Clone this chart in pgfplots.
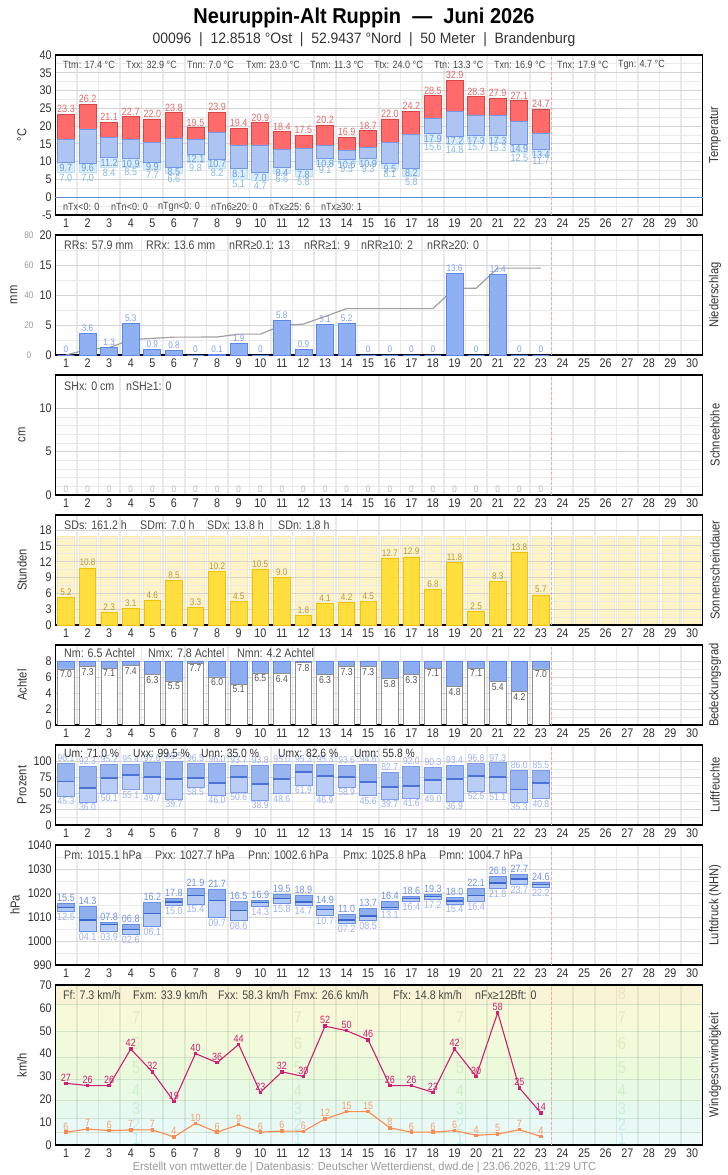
\documentclass[border=0pt]{standalone}
\usepackage{pgfplots}
\pgfplotsset{compat=1.18}
\usepackage{pgfplotstable}
\usepackage{fontspec}
\setmainfont[FakeStretch=0.86]{Liberation Sans}
\newfontfamily\headfont[FakeStretch=0.93]{Liberation Sans}
\newcommand\fs[1]{\fontsize{#1}{#1}\selectfont}

\definecolor{txt}{HTML}{333333}
\definecolor{stat}{HTML}{474747}
\definecolor{footc}{HTML}{999999}
\definecolor{gridc}{HTML}{D4D4D4}
\definecolor{gridv}{HTML}{E9E9E9}
\definecolor{vred}{HTML}{F2A8A8}
\definecolor{zeroc}{HTML}{5B8FDD}
\definecolor{redf}{HTML}{FF6B6B}
\definecolor{redd}{HTML}{D84545}
\definecolor{bluef}{HTML}{AEC5F3}
\definecolor{blued}{HTML}{7398E8}
\definecolor{cyanf}{HTML}{D8EEFB}
\definecolor{cyand}{HTML}{C2E0F2}
\definecolor{labred}{HTML}{E46A6A}
\definecolor{labblue}{HTML}{7098DE}
\definecolor{labcyan}{HTML}{86B9E0}
\definecolor{prf}{HTML}{8FB0F2}
\definecolor{prd}{HTML}{5C86EA}
\definecolor{prl}{HTML}{7E9FF0}
\definecolor{cumc}{HTML}{A0A0A0}
\definecolor{snowl}{HTML}{BBBBBB}
\definecolor{sunf}{HTML}{FFDE3E}
\definecolor{sund}{HTML}{F2C200}
\definecolor{sunbg}{HTML}{FFF4C8}
\definecolor{sunbgd}{HTML}{FBE7A6}
\definecolor{sunl}{HTML}{B8963E}
\definecolor{cldf}{HTML}{8CADF0}
\definecolor{cldd}{HTML}{5F88E6}
\definecolor{cldw}{HTML}{8E8E8E}
\definecolor{cldl}{HTML}{555555}
\definecolor{huml}{HTML}{BACDF6}
\definecolor{humu}{HTML}{98B5F0}
\definecolor{humd}{HTML}{7C9BE8}
\definecolor{humm}{HTML}{4A72D8}
\definecolor{humlab}{HTML}{9DB3EE}
\definecolor{prsl}{HTML}{B6CAF6}
\definecolor{prsu}{HTML}{8EAEEE}
\definecolor{prsd}{HTML}{6A90E6}
\definecolor{prsm}{HTML}{3A66D0}
\definecolor{prslabu}{HTML}{6F93E6}
\definecolor{prslabl}{HTML}{A0B5EA}
\definecolor{fxc}{HTML}{D11F73}
\definecolor{fmc}{HTML}{FF8A50}
\definecolor{fml}{HTML}{F5A070}
\definecolor{bz}{HTML}{EEFBFB}
\definecolor{ba}{HTML}{E8F9F6}
\definecolor{bb}{HTML}{E6F9EE}
\definecolor{bc}{HTML}{E8FAE3}
\definecolor{bd}{HTML}{ECFADC}
\definecolor{be}{HTML}{F1FADA}
\definecolor{bf}{HTML}{F6FAD8}
\definecolor{bg}{HTML}{FAF4D6}
\definecolor{bline}{HTML}{CFE3CB}
\definecolor{dga}{HTML}{C4EDF0}
\definecolor{dgb}{HTML}{C6EDE4}
\definecolor{dgc}{HTML}{CBEED4}
\definecolor{dgd}{HTML}{D0EECA}
\definecolor{dge}{HTML}{D8ECC4}
\definecolor{dgf}{HTML}{DFEAC0}
\definecolor{dgg}{HTML}{E5E9BE}
\definecolor{dgh}{HTML}{EBE3C2}

\pgfplotstableread{
d tx tm tn tgn
1 23.3 16.2 9.7 7.0
2 26.2 19.2 9.6 7.0
3 21.1 16.7 11.2 8.4
4 22.7 16.2 10.9 8.5
5 22.0 15.3 9.9 7.7
6 23.8 16.4 8.5 6.6
7 19.5 16.2 12.1 9.8
8 23.9 18.2 10.7 8.2
9 19.4 14.7 8.1 5.1
10 20.9 14.7 7.0 4.7
11 18.4 13.4 8.4 6.6
12 17.5 13.7 7.8 5.8
13 20.2 14.5 10.8 9.1
14 16.9 13.3 10.6 9.5
15 18.7 13.9 10.9 9.3
16 22.0 15.3 9.5 8.1
17 24.2 17.7 8.2 5.8
18 28.5 22.3 17.9 15.6
19 32.9 24.0 17.2 14.8
20 28.3 22.9 17.3 15.7
21 27.9 22.9 17.3 15.3
22 27.1 21.3 14.9 12.5
23 24.7 17.9 13.4 11.7
}\Temp

\pgfplotstableread{
d rr cum z
1 0 0 0
2 3.6 3.6 0
3 1.3 4.9 0
4 5.3 10.2 0
5 0.9 11.1 0
6 0.8 11.9 0
7 0 11.9 0
8 0.1 12.0 0
9 1.9 13.9 0
10 0 13.9 0
11 5.8 19.7 0
12 0.9 20.6 0
13 5.1 25.7 0
14 5.2 30.9 0
15 0 30.9 0
16 0 30.9 0
17 0 30.9 0
18 0 30.9 0
19 13.6 44.5 0
20 0 44.5 0
21 13.4 57.9 0
22 0 57.9 0
23 0 57.9 0
}\Prec

\pgfplotstableread{
d sd
1 5.2
2 10.8
3 2.3
4 3.1
5 4.6
6 8.5
7 3.3
8 10.2
9 4.5
10 10.5
11 9.0
12 1.8
13 4.1
14 4.2
15 4.5
16 12.7
17 12.9
18 6.8
19 11.8
20 2.5
21 8.3
22 13.8
23 5.7
}\Sun

\pgfplotstableread{
d h
1 16.7
2 16.7
3 16.7
4 16.7
5 16.7
6 16.7
7 16.7
8 16.7
9 16.7
10 16.7
11 16.7
12 16.7
13 16.7
14 16.7
15 16.7
16 16.7
17 16.7
18 16.7
19 16.7
20 16.7
21 16.7
22 16.7
23 16.7
24 16.7
25 16.7
26 16.7
27 16.7
28 16.7
29 16.7
30 16.7
}\SunBg

\pgfplotstableread{
d n
1 7.0
2 7.3
3 7.1
4 7.4
5 6.3
6 5.5
7 7.7
8 6.0
9 5.1
10 6.5
11 6.4
12 7.8
13 6.3
14 7.3
15 7.3
16 5.8
17 6.3
18 7.1
19 4.8
20 7.1
21 5.4
22 4.2
23 7.0
}\Cloud

\pgfplotstableread{
d umax umean umin
1 96.1 68.4 45.3
2 92.3 58.0 36.0
3 95.2 73.6 50.1
4 95.4 78.2 55.1
5 97.6 75.1 49.7
6 99.5 72.0 39.7
7 96.5 73.6 58.5
8 96.0 65.8 46.0
9 93.7 75.1 50.6
10 93.8 64.2 38.9
11 95.0 72.0 48.6
12 95.3 82.6 61.9
13 95.3 76.7 46.9
14 93.6 75.1 58.9
15 94.6 67.4 45.6
16 82.7 59.6 39.7
17 92.0 61.1 41.6
18 90.3 70.5 49.0
19 93.4 72.0 36.9
20 96.8 76.7 52.5
21 97.3 75.1 51.1
22 86.0 55.8 35.3
23 85.5 65.8 40.8
}\Hum

\pgfplotstableread{
d pmax pmean pmin lmax lmin
1 1015.5 1014.1 1012.5 15.5 12.5
2 1014.3 1008.7 1004.1 14.3 04.1
3 1007.8 1006.9 1003.9 07.8 03.9
4 1006.8 1004.7 1002.6 06.8 02.6
5 1016.2 1011.6 1006.1 16.2 06.1
6 1017.8 1016.3 1015.0 17.8 15.0
7 1021.9 1019.1 1015.4 21.9 15.4
8 1021.7 1017.0 1009.7 21.7 09.7
9 1016.5 1012.6 1008.6 16.5 08.6
10 1016.9 1016.0 1014.3 16.9 14.3
11 1019.5 1017.6 1015.8 19.5 15.8
12 1018.9 1016.3 1014.7 18.9 14.7
13 1014.9 1013.0 1010.7 14.9 10.7
14 1011.0 1008.8 1007.2 11.0 07.2
15 1013.7 1010.4 1008.5 13.7 08.5
16 1016.4 1014.1 1013.1 16.4 13.1
17 1018.6 1017.8 1016.4 18.6 16.4
18 1019.3 1018.4 1017.2 19.3 17.2
19 1018.0 1016.7 1015.4 18.0 15.4
20 1022.1 1019.1 1016.4 22.1 16.4
21 1026.8 1024.2 1021.8 26.8 21.8
22 1027.7 1025.8 1023.7 27.7 23.7
23 1024.6 1023.6 1022.2 24.6 22.2
}\Pres

\pgfplotstableread{
d fx fm fml
1 27 5.6 6
2 26 7.0 7
3 26 6.3 6
4 42 6.6 7
5 32 6.6 7
6 19 3.5 4
7 40 9.5 10
8 36 5.6 6
9 44 8.9 9
10 23 5.6 6
11 32 6.1 6
12 30 6.0 6
13 52 11.4 12
14 50 14.6 15
15 46 14.6 15
16 26 7.5 8
17 26 5.6 6
18 23 5.6 6
19 42 6.3 6
20 30 4.2 4
21 58 4.8 5
22 25 6.7 7
23 14 3.7 4
}\Wind

\pgfplotsset{
  geom/.style 2 args={at={(55.2pt,#1pt)}, anchor=south west, scale only axis,
     width=647.6pt, height=#2pt, xmin=0.5, xmax=30.5},
  base/.style={
    axis line style={black, line width=1.1pt},
    major tick length=0pt, minor tick length=0pt,
    xtick={1,...,30},
    minor xtick={1.5,2.5,...,29.5},
    xminorgrids=true, ymajorgrids=true, yminorgrids=true,
    minor x grid style={gridv, line width=1.6pt},
    major y grid style={gridc, line width=0.8pt},
    minor y grid style={gridv, line width=0.8pt},
    tick label style={font=\fs{12.5}, text=txt},
    scaled y ticks=false,
    /pgf/number format/assume math mode=true,
    /pgf/number format/1000 sep={},
  },
  stk/.style={hide axis, ybar stacked, bar width=#1},
  lab/.style={only marks, mark=*, mark size=0pt, mark options={draw=none,fill=none},
      nodes near coords, point meta=explicit symbolic},
}
\newcommand\redvline[2]{\draw[vred, line width=0.9pt, dash pattern=on 3pt off 2pt] (axis cs:23.5,#1) -- (axis cs:23.5,#2);}
\newcommand\st[3]{\node[anchor=west, font=\fs{10.5}, text=stat, inner sep=0pt] at (#1pt,#2pt) {#3};}
\newcommand\stb[3]{\node[anchor=west, font=\fs{12.4}, text=stat, inner sep=0pt] at (#1pt,#2pt) {#3};}
\newcommand\yl[3]{\node[rotate=90, font=\fs{13}, text=txt] at (#1pt,#2pt) {#3};}

\begin{document}
\begin{tikzpicture}
\useasboundingbox (0pt,0pt) rectangle (728pt,1175pt);
\node[font=\headfont\fs{21.5}\bfseries, text=black] at (364pt,1157pt) {Neuruppin-Alt Ruppin\ \ —\ \ Juni 2026};
\node[font=\headfont\fs{15}, text=txt] at (364pt,1135pt) {00096\ \ |\ \ 12.8518 °Ost\ \ |\ \ 52.9437 °Nord\ \ |\ \ 50 Meter\ \ |\ \ Brandenburg};
\node[font=\headfont\fs{11.8}, text=footc] at (364.5pt,8pt) {Erstellt von mtwetter.de | Datenbasis: Deutscher Wetterdienst, dwd.de | 23.06.2026, 11:29 UTC};

% ================= Temperatur =================
\begin{axis}[geom={960}{160}, base, ymin=-5, ymax=40, ytick={-5,0,...,40}, minor y tick num=1]
\draw[zeroc, line width=1pt] (axis cs:0.5,0) -- (axis cs:30.5,0);
\redvline{-5}{40}
\end{axis}
\begin{axis}[geom={960}{160}, stk=17pt, ymin=-5, ymax=40]
\addplot[draw=none, fill=none] table[x=d,y=tgn]{\Temp};
\addplot[draw=cyand, fill=cyanf, line width=0.8pt] table[x=d,y expr=\thisrow{tn}-\thisrow{tgn}]{\Temp};
\end{axis}
\begin{axis}[geom={960}{160}, stk=17pt, ymin=-5, ymax=40]
\addplot[draw=none, fill=none] table[x=d,y=tn]{\Temp};
\addplot[draw=blued, fill=bluef, line width=0.8pt] table[x=d,y expr=\thisrow{tm}-\thisrow{tn}]{\Temp};
\addplot[draw=redd, fill=redf, line width=0.8pt] table[x=d,y expr=\thisrow{tx}-\thisrow{tm}]{\Temp};
\end{axis}
\begin{axis}[geom={960}{160}, hide axis, clip=false, ymin=-5, ymax=40]
\addplot[lab, nodes near coords style={font=\fs{10.5}, text=labred, anchor=south, inner sep=1.2pt}] table[x=d,y=tx,meta=tx]{\Temp};
\addplot[lab, nodes near coords style={font=\fs{10.5}, text=labblue, anchor=north, inner sep=1.2pt}] table[x=d,y=tn,meta=tn]{\Temp};
\addplot[lab, nodes near coords style={font=\fs{10.5}, text=labcyan, anchor=north, inner sep=1.2pt}] table[x=d,y=tgn,meta=tgn]{\Temp};
\end{axis}
\st{63}{1110}{Ttm: 17.4 °C}\st{126}{1110}{Txx: 32.9 °C}\st{187}{1110}{Tnn: 7.0 °C}
\st{246}{1110}{Txm: 23.0 °C}\st{310}{1110}{Tnm: 11.3 °C}\st{374}{1110}{Ttx: 24.0 °C}
\st{434}{1110}{Ttn: 13.3 °C}\st{494}{1110}{Txn: 16.9 °C}\st{557}{1110}{Tnx: 17.9 °C}
\st{618}{1110}{Tgn: 4.7 °C}
\st{63}{968}{nTx<0: 0}\st{111}{968}{nTn<0: 0}\st{158}{968}{nTgn<0: 0}
\st{211}{968}{nTn6≥20: 0}\st{269}{968}{nTx≥25: 6}\st{321}{968}{nTx≥30: 1}
\yl{22}{1040}{°C}\yl{715}{1040}{Temperatur}

% ================= Niederschlag =================
\begin{axis}[geom={820}{120}, base, ymin=0, ymax=20, ytick={0,5,...,20}, minor y tick num=1]
\redvline{0}{20}
\end{axis}
\begin{axis}[geom={820}{120}, hide axis, clip=false, ymin=0, ymax=20]
\addplot[cumc, line width=1.2pt, mark=none] table[x=d, y expr=\thisrow{cum}/4]{\Prec};
\addplot[ybar, bar width=17pt, fill=prf, draw=prd, line width=0.8pt, nodes near coords, point meta=explicit symbolic,
  nodes near coords style={font=\fs{9.5}, text=prl, inner sep=1.5pt}] table[x=d,y=rr,meta=rr]{\Prec};
\end{axis}
\foreach \v/\yy in {0/820,20/850,40/880,60/910,80/940}{\node[font=\fs{9.5}, text=footc] at (29pt,\yy pt) {\v};}
\stb{64}{930}{RRs: 57.9 mm}\stb{146}{930}{RRx: 13.6 mm}\stb{229}{930}{nRR≥0.1: 13}
\stb{304}{930}{nRR≥1: 9}\stb{361}{930}{nRR≥10: 2}\stb{427}{930}{nRR≥20: 0}
\yl{14}{880}{mm}\yl{715}{880}{Niederschlag}

% ================= Schneehoehe =================
\begin{axis}[geom={680}{120}, base, ymin=0, ymax=13.85, ytick={0,5,10}, minor y tick num=4]
\redvline{0}{13.85}
\end{axis}
\begin{axis}[geom={680}{120}, hide axis, clip=false, ymin=0, ymax=13.85]
\addplot[lab, nodes near coords style={font=\fs{9.5}, text=snowl, anchor=south, inner sep=2pt}] table[x=d,y=z,meta=z]{\Prec};
\end{axis}
\stb{64}{789}{SHx: 0 cm}\stb{126}{789}{nSH≥1: 0}
\yl{22}{740}{cm}\yl{715}{740}{Schneehöhe}

% ================= Sonnenscheindauer =================
\begin{axis}[geom={550}{110}, hide axis, ymin=0, ymax=20.84]
\addplot[ybar, bar width=17pt, fill=sunbg, draw=sunbgd, line width=0.8pt] table[x=d,y=h]{\SunBg};
\end{axis}
\begin{axis}[geom={550}{110}, base, ymin=0, ymax=20.84, ytick={0,3,...,18}, minor y tick num=1]
\redvline{0}{20.84}
\end{axis}
\begin{axis}[geom={550}{110}, hide axis, clip=false, ymin=0, ymax=20.84]
\addplot[ybar, bar width=16.5pt, fill=sunf, draw=sund, line width=0.8pt, nodes near coords, point meta=explicit symbolic,
  nodes near coords style={font=\fs{9.5}, text=sunl, inner sep=1.5pt}] table[x=d,y=sd,meta=sd]{\Sun};
\end{axis}
\stb{64}{650}{SDs: 161.2 h}\stb{140}{650}{SDm: 7.0 h}\stb{207}{650}{SDx: 13.8 h}\stb{278}{650}{SDn: 1.8 h}
\yl{22}{605}{Stunden}\yl{715}{605}{Sonnenscheindauer}

% ================= Bedeckungsgrad =================
\begin{axis}[geom={450}{80}, base, ymin=0, ymax=10, ytick={0,2,...,8}, minor y tick num=1]
\redvline{0}{10}
\end{axis}
\begin{axis}[geom={450}{80}, stk=16.5pt, ymin=0, ymax=10]
\addplot[draw=cldw, fill=white, line width=0.8pt] table[x=d,y=n]{\Cloud};
\addplot[draw=cldd, fill=cldf, line width=0.8pt] table[x=d,y expr=8-\thisrow{n}]{\Cloud};
\end{axis}
\begin{axis}[geom={450}{80}, hide axis, clip=false, ymin=0, ymax=10]
\addplot[lab, nodes near coords style={font=\fs{10}, text=cldl, anchor=north, inner sep=1.5pt}] table[x=d,y=n,meta=n]{\Cloud};
\end{axis}
\stb{64}{522}{Nm: 6.5 Achtel}\stb{148}{522}{Nmx: 7.8 Achtel}\stb{237}{522}{Nmn: 4.2 Achtel}
\yl{22}{490}{Achtel}\yl{715}{490}{Bedeckungsgrad}

% ================= Luftfeuchte =================
\begin{axis}[geom={350}{80}, base, ymin=0, ymax=125, ytick={0,25,...,100}, minor y tick num=1]
\redvline{0}{125}
\end{axis}
\begin{axis}[geom={350}{80}, stk=17pt, ymin=0, ymax=125]
\addplot[draw=none, fill=none] table[x=d,y=umin]{\Hum};
\addplot[draw=humd, fill=huml, line width=0.8pt] table[x=d,y expr=\thisrow{umean}-\thisrow{umin}]{\Hum};
\addplot[draw=humd, fill=humu, line width=0.8pt] table[x=d,y expr=\thisrow{umax}-\thisrow{umean}]{\Hum};
\end{axis}
\begin{axis}[geom={350}{80}, hide axis, clip=false, ymin=0, ymax=125]
\addplot[only marks, mark=-, mark size=8.5pt, mark options={draw=humm, line width=1.3pt}] table[x=d,y=umean]{\Hum};
\addplot[lab, nodes near coords style={font=\fs{10}, text=humlab, anchor=south, inner sep=1.2pt}] table[x=d,y=umax,meta=umax]{\Hum};
\addplot[lab, nodes near coords style={font=\fs{10}, text=humlab, anchor=north, inner sep=1.2pt}] table[x=d,y=umin,meta=umin]{\Hum};
\end{axis}
\node[anchor=west, font=\fs{12}, text=txt, inner sep=0pt] at (64pt,422pt) {Um: 71.0 \%};
\node[anchor=west, font=\fs{12}, text=txt, inner sep=0pt] at (133pt,422pt) {Uxx: 99.5 \%};
\node[anchor=west, font=\fs{12}, text=txt, inner sep=0pt] at (201pt,422pt) {Unn: 35.0 \%};
\node[anchor=west, font=\fs{12}, text=txt, inner sep=0pt] at (278pt,422pt) {Umx: 82.6 \%};
\node[anchor=west, font=\fs{12}, text=txt, inner sep=0pt] at (354pt,422pt) {Umn: 55.8 \%};
\yl{22}{390}{Prozent}\yl{715}{390}{Luftfeuchte}

% ================= Luftdruck =================
\begin{axis}[geom={210}{120}, base, ymin=990, ymax=1040, ytick={990,1000,...,1040}, minor y tick num=1]
\redvline{990}{1040}
\end{axis}
\begin{axis}[geom={210}{120}, stk=17pt, ymin=990, ymax=1040]
\addplot[draw=none, fill=none] table[x=d,y=pmin]{\Pres};
\addplot[draw=prsd, fill=prsl, line width=0.8pt] table[x=d,y expr=\thisrow{pmean}-\thisrow{pmin}]{\Pres};
\addplot[draw=prsd, fill=prsu, line width=0.8pt] table[x=d,y expr=\thisrow{pmax}-\thisrow{pmean}]{\Pres};
\end{axis}
\begin{axis}[geom={210}{120}, hide axis, clip=false, ymin=990, ymax=1040]
\addplot[only marks, mark=-, mark size=8.5pt, mark options={draw=prsm, line width=1.3pt}] table[x=d,y=pmean]{\Pres};
\addplot[lab, nodes near coords style={font=\fs{10.5}, text=prslabu, anchor=south, inner sep=1.5pt}] table[x=d,y=pmax,meta=lmax]{\Pres};
\addplot[lab, nodes near coords style={font=\fs{10.5}, text=prslabl, anchor=north, inner sep=1.5pt}] table[x=d,y=pmin,meta=lmin]{\Pres};
\end{axis}
\stb{64}{320}{Pm: 1015.1 hPa}\stb{155}{320}{Pxx: 1027.7 hPa}\stb{248}{320}{Pnn: 1002.6 hPa}
\stb{343}{320}{Pmx: 1025.8 hPa}\stb{439}{320}{Pmn: 1004.7 hPa}
\yl{15}{270}{hPa}\yl{715}{270}{Luftdruck (NHN)}

% ================= Wind =================
\begin{axis}[geom={30}{160}, hide axis, ymin=0, ymax=70]
\fill[bz] (axis cs:0.5,0) rectangle (axis cs:30.5,5.5);
\fill[ba] (axis cs:0.5,5.5) rectangle (axis cs:30.5,11.5);
\fill[bb] (axis cs:0.5,11.5) rectangle (axis cs:30.5,19.5);
\fill[bc] (axis cs:0.5,19.5) rectangle (axis cs:30.5,28.5);
\fill[bd] (axis cs:0.5,28.5) rectangle (axis cs:30.5,38.5);
\fill[be] (axis cs:0.5,38.5) rectangle (axis cs:30.5,49.5);
\fill[bf] (axis cs:0.5,49.5) rectangle (axis cs:30.5,61.5);
\fill[bg] (axis cs:0.5,61.5) rectangle (axis cs:30.5,70);
\draw[bline, line width=0.9pt] (axis cs:0.5,5.5) -- (axis cs:30.5,5.5);
\draw[bline, line width=0.9pt] (axis cs:0.5,11.5) -- (axis cs:30.5,11.5);
\draw[bline, line width=0.9pt] (axis cs:0.5,19.5) -- (axis cs:30.5,19.5);
\draw[bline, line width=0.9pt] (axis cs:0.5,28.5) -- (axis cs:30.5,28.5);
\draw[bline, line width=0.9pt] (axis cs:0.5,38.5) -- (axis cs:30.5,38.5);
\draw[bline, line width=0.9pt] (axis cs:0.5,49.5) -- (axis cs:30.5,49.5);
\draw[bline, line width=0.9pt] (axis cs:0.5,61.5) -- (axis cs:30.5,61.5);
\end{axis}
\foreach \xx in {136.15,298.05,459.95,621.85}{
  \node[font=\fs{17}, text=dga] at (\xx pt,36.6pt) {1};
  \node[font=\fs{17}, text=dgb] at (\xx pt,50.3pt) {2};
  \node[font=\fs{17}, text=dgc] at (\xx pt,66.1pt) {3};
  \node[font=\fs{17}, text=dgd] at (\xx pt,84.6pt) {4};
  \node[font=\fs{17}, text=dge] at (\xx pt,107.3pt) {5};
  \node[font=\fs{17}, text=dgf] at (\xx pt,131.5pt) {6};
  \node[font=\fs{17}, text=dgg] at (\xx pt,157.5pt) {7};
  \node[font=\fs{17}, text=dgh] at (\xx pt,180.9pt) {8};
}
\begin{axis}[geom={30}{160}, base, ymin=0, ymax=70, ytick={0,10,...,70}, ymajorgrids=false, yminorgrids=false,
   minor x grid style={black, opacity=0.07, line width=1.6pt}]
\redvline{0}{70}
\end{axis}
\begin{axis}[geom={30}{160}, hide axis, clip=false, ymin=0, ymax=70]
\addplot[fmc, line width=1.1pt, mark=square*, mark size=1.2pt, nodes near coords, point meta=explicit symbolic,
  nodes near coords style={font=\fs{10.5}, text=fml, anchor=south, inner sep=1.5pt}] table[x=d,y=fm,meta=fml]{\Wind};
\addplot[fxc, line width=1.1pt, mark=square*, mark size=1.2pt, nodes near coords, point meta=explicit symbolic,
  nodes near coords style={font=\fs{10.5}, text=fxc, anchor=south, inner sep=1.5pt}] table[x=d,y=fx,meta=fx]{\Wind};
\end{axis}
\stb{63}{180}{Ff: 7.3 km/h}\stb{133}{180}{Fxm: 33.9 km/h}\stb{218}{180}{Fxx: 58.3 km/h}
\stb{294}{180}{Fmx: 26.6 km/h}\stb{393}{180}{Ffx: 14.8 km/h}\stb{475}{180}{nFx≥12Bft: 0}
\yl{22}{110}{km/h}\yl{715}{110}{Windgeschwindigkeit}
\end{tikzpicture}
\end{document}
